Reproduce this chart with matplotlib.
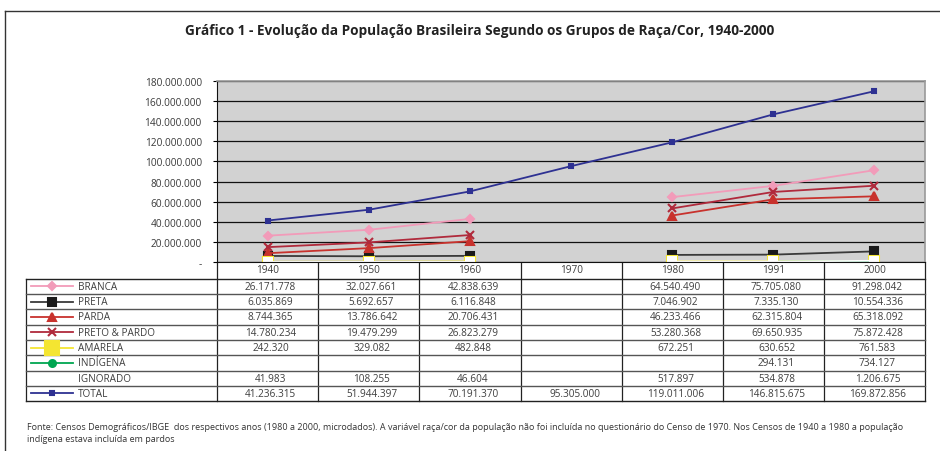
import matplotlib
matplotlib.use('Agg')
import matplotlib.pyplot as plt
from matplotlib.lines import Line2D
import numpy as np

plt.rcParams['font.family'] = ['Open Sans', 'DejaVu Sans']

nan = np.nan
years = ['1940', '1950', '1960', '1970', '1980', '1991', '2000']
branca = [26171778, 32027661, 42838639, nan, 64540490, 75705080, 91298042]
preta = [6035869, 5692657, 6116848, nan, 7046902, 7335130, 10554336]
parda = [8744365, 13786642, 20706431, nan, 46233466, 62315804, 65318092]
preto_pardo = [14780234, 19479299, 26823279, nan, 53280368, 69650935, 75872428]
amarela = [242320, 329082, 482848, nan, 672251, 630652, 761583]
indigena = [nan, nan, nan, nan, nan, 294131, 734127]
ignorado = [41983, 108255, 46604, nan, 517897, 534878, 1206675]
total = [41236315, 51944397, 70191370, 95305000, 119011006, 146815675, 169872856]

series = [
    # label, values, line colour, marker, marker colour, marker size
    ('BRANCA', branca, '#F29BB9', 'D', '#F29BB9', 4.5),
    ('PRETA', preta, '#3a3a3a', 's', '#1a1a1a', 5.5),
    ('PARDA', parda, '#C8322D', '^', '#C8322D', 6),
    ('PRETO & PARDO', preto_pardo, '#B02A3C', 'x', '#B02A3C', 5.5),
    ('AMARELA', amarela, '#F4E531', 's', '#F4E531', 7),
    ('INDÍGENA', indigena, '#00A651', 'o', '#00A651', 5),
    ('IGNORADO', ignorado, '#FFFFFF', 's', '#FFFFFF', 6),
    ('TOTAL', total, '#2E3192', 's', '#2E3192', 2.5),
]

W, H = 940, 452
fig = plt.figure(figsize=(W / 100, H / 100), dpi=100)


def fx(px):
    return px / W


def fy(py):
    return 1 - py / H


# chart area
x0, x1 = 217, 925
y_top, y_bot = 82, 263
ax = fig.add_axes([fx(x0), fy(y_bot), fx(x1 - x0), (y_bot - y_top) / H])
ax.set_facecolor('#D2D2D2')
xs = np.arange(len(years))
for label, vals, lc, mk, mc, ms in series:
    ax.plot(xs, vals, color=lc, lw=1.3, marker=mk, markersize=ms,
            markerfacecolor=mc, markeredgecolor=mc, markeredgewidth=1.5)
ax.set_xlim(-0.5, len(years) - 0.5)
ax.set_ylim(0, 180000000)
yt = np.arange(0, 180000001, 20000000)
ax.set_yticks(yt)
ax.set_yticklabels(['-'] + [f'{v:,}'.replace(',', '.') for v in yt[1:]],
                   fontsize=7.3, color='#3a3a3a')
ax.set_xticks([])
ax.grid(axis='y', color='#111111', lw=0.9)
ax.set_axisbelow(True)
ax.tick_params(axis='y', length=3, width=0.8, pad=8)
for side in ['top', 'right']:
    ax.spines[side].set_color('#999999')
    ax.spines[side].set_linewidth(1.2)
ax.spines['left'].set_color('#111111')
ax.spines['bottom'].set_color('#111111')

# table / overlay axes in pixel coords
ov = fig.add_axes([0, 0, 1, 1], zorder=-1)
ov.set_xlim(0, W)
ov.set_ylim(H, 0)
ov.axis('off')

col_edges = [217, 318, 419, 521, 622, 723, 824, 925]
row_edges = [279.5, 295, 310.3, 325.7, 341, 356.3, 371.7, 387, 401.7]
lc_tab = '#222222'
txt_c = '#3f3f3f'

for xe in col_edges:
    ov.plot([xe, xe], [263, row_edges[-1]], color=lc_tab, lw=0.9)
ov.plot([26, 26], [row_edges[0], row_edges[-1]], color=lc_tab, lw=0.9)
for i, ye in enumerate(row_edges):
    ov.plot([26, 925], [ye, ye], color='#555555' if 0 < i < 8 else lc_tab, lw=1.0)

for j, yr in enumerate(years):
    ov.text((col_edges[j] + col_edges[j + 1]) / 2, 271, yr, ha='center',
            va='center', fontsize=7.2, color=txt_c)

for i, (label, vals, lc, mk, mc, ms) in enumerate(series):
    yc = (row_edges[i] + row_edges[i + 1]) / 2
    if label != 'IGNORADO':
        ov.add_line(Line2D([31, 73], [yc, yc], color=lc, lw=1.3))
        ov.add_line(Line2D([52], [yc], marker=mk, color=mc,
                           markersize=ms + (3 if label == 'AMARELA' else 0),
                           markeredgewidth=1.5))
    ov.text(78, yc, label, ha='left', va='center', fontsize=7.2, color=txt_c)
    for j, v in enumerate(vals):
        if not np.isnan(v):
            ov.text((col_edges[j] + col_edges[j + 1]) / 2 + 3, yc,
                    f'{int(v):,}'.replace(',', '.'), ha='center', va='center',
                    fontsize=7.2, color=txt_c)

# frame
ov.plot([5, W], [12, 12], color='#333333', lw=1.0)
ov.plot([5, 5], [12, H], color='#333333', lw=1.0)

fig.text(fx(480), fy(31), 'Gráfico 1 - Evolução da População Brasileira Segundo os Grupos de Raça/Cor, 1940-2000',
         ha='center', va='center', fontsize=9.8, fontweight='bold', color='#222222')

fig.text(fx(27), fy(428),
         'Fonte: Censos Demográficos/IBGE  dos respectivos anos (1980 a 2000, microdados). A variável raça/cor da população não foi incluída no questionário do Censo de 1970. Nos Censos de 1940 a 1980 a população',
         ha='left', va='center', fontsize=6.5, color='#333333')
fig.text(fx(27), fy(440), 'indígena estava incluída em pardos',
         ha='left', va='center', fontsize=6.5, color='#333333')

fig.savefig('out.png', dpi=100)
